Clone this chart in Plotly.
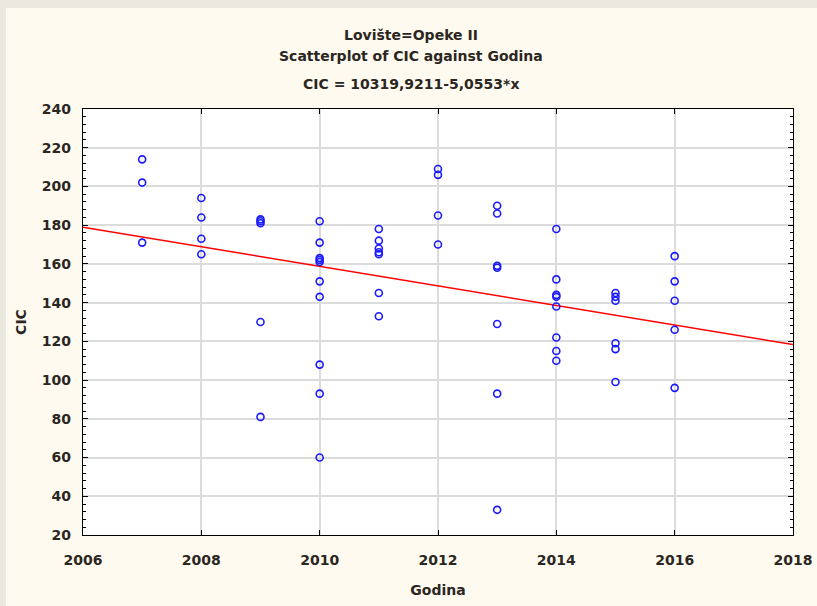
import plotly.graph_objects as go

# data (Statistica scatterplot)
godina = [2007, 2007, 2007,
          2008, 2008, 2008, 2008,
          2009, 2009, 2009, 2009, 2009,
          2010, 2010, 2010, 2010, 2010, 2010, 2010, 2010, 2010, 2010,
          2011, 2011, 2011, 2011, 2011, 2011, 2011,
          2012, 2012, 2012, 2012,
          2013, 2013, 2013, 2013, 2013, 2013, 2013,
          2014, 2014, 2014, 2014, 2014, 2014, 2014, 2014,
          2015, 2015, 2015, 2015, 2015, 2015,
          2016, 2016, 2016, 2016, 2016]
cic = [214, 202, 171,
       194, 184, 173, 165,
       183, 182, 181, 130, 81,
       182, 171, 163, 162, 161, 151, 143, 108, 93, 60,
       178, 172, 168, 166, 165, 145, 133,
       209, 206, 185, 170,
       190, 186, 159, 158, 129, 93, 33,
       178, 152, 144, 143, 138, 122, 115, 110,
       145, 143, 141, 119, 116, 99,
       164, 151, 141, 126, 96]

# regression line from the title: CIC = 10319,9211 - 5,0553*x
intercept = 10319.9211
slope = -5.0553
fit_x = [2006, 2018]
fit_y = [intercept + slope * x for x in fit_x]

FONT = "DejaVu Sans, Arial, sans-serif"
TXT = "#2a2622"
BG = "#fffaef"
EDGE = "#ebe9df"


def txt_font(size=14):
    return dict(family=FONT, size=size, color=TXT, weight="bold")


fig = go.Figure()
fig.add_trace(go.Scatter(
    x=fit_x, y=fit_y, mode="lines",
    line=dict(color="#ff0000", width=1.5),
    hoverinfo="skip", showlegend=False,
))
fig.add_trace(go.Scatter(
    x=godina, y=cic, mode="markers",
    marker=dict(symbol="circle-open", size=7, color="#1a1aff",
                line=dict(width=1.6, color="#1a1aff")),
    showlegend=False,
))

axis_common = dict(
    showline=True, linecolor="black", linewidth=1.2, mirror="ticks",
    ticks="inside", tickcolor="black", ticklen=5,
    showgrid=True, gridcolor="#dcdcdc", gridwidth=1.5,
    zeroline=False, automargin=False,
    tickfont=txt_font(),
)

fig.update_xaxes(range=[2006, 2018], dtick=2, ticklabelstandoff=12,
                 title=dict(text="Godina", font=txt_font(), standoff=18),
                 **axis_common)
fig.update_yaxes(range=[20, 240], dtick=20, ticklabelstandoff=8,
                 minor=dict(ticks="inside", dtick=4, ticklen=3, tickcolor="black",
                            showgrid=False),
                 title=dict(text="CIC", font=txt_font(), standoff=11),
                 **axis_common)

titles = [("Lovište=Opeke II", 1.174),
          ("Scatterplot of CIC against Godina", 1.124),
          ("CIC = 10319,9211-5,0553*x", 1.059)]
for text, y in titles:
    fig.add_annotation(text=text, x=0.462, y=y, xref="paper", yref="paper",
                       showarrow=False, xanchor="center", yanchor="middle",
                       font=txt_font())

# grey window edges (left and top)
fig.add_shape(type="rect", xref="paper", yref="paper",
              x0=-0.2, x1=-0.1085, y0=-0.5, y1=1.5,
              fillcolor=EDGE, line_width=0, layer="below")
fig.add_shape(type="rect", xref="paper", yref="paper",
              x0=-0.2, x1=1.2, y0=1.2371, y1=1.5,
              fillcolor=EDGE, line_width=0, layer="below")

fig.update_layout(
    width=817, height=606,
    margin=dict(l=83, r=24, t=109, b=71),
    paper_bgcolor=BG, plot_bgcolor="white",
    font=dict(family=FONT, color=TXT),
)

fig.write_html("out.html", config={"displayModeBar": False},
               post_script="document.body.style.margin='0';")
